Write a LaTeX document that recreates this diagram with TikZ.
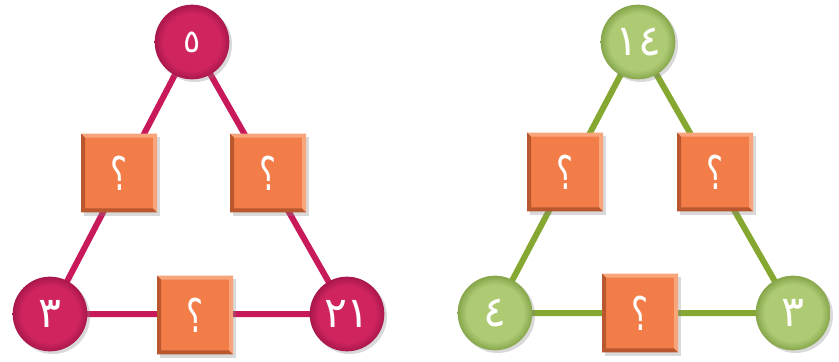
\documentclass[tikz,border=0pt]{standalone}
\usepackage{fontspec}
\usepackage{graphicx}
\newfontfamily\digfont{DejaVu Sans}
\usetikzlibrary{shadows,backgrounds}
\definecolor{crimA}{HTML}{D0245F}
\definecolor{crimB}{HTML}{A8174C}
\definecolor{crimL}{HTML}{C8195A}
\definecolor{grnA}{HTML}{AECB74}
\definecolor{grnB}{HTML}{86A64B}
\definecolor{grnL}{HTML}{86A832}
\definecolor{sqO}{HTML}{F27D48}
\definecolor{sqD}{HTML}{B9582E}
\definecolor{sqL}{HTML}{F8A57C}
\newcommand{\qmk}{\scalebox{1}[1.45]{؟}}
\pgfdeclareradialshading{crimball}{\pgfpoint{0bp}{0bp}}{color(0bp)=(crimA); color(19bp)=(crimA); color(25bp)=(crimB); color(50bp)=(crimB)}
\pgfdeclareradialshading{grnball}{\pgfpoint{0bp}{0bp}}{color(0bp)=(grnA); color(19bp)=(grnA); color(25bp)=(grnB); color(50bp)=(grnB)}
\tikzset{
  numtext/.style={text=white, font=\digfont\fontsize{32}{32}\selectfont},
  smalltext/.style={font=\digfont\fontsize{24}{24}\selectfont},
  qtext/.style={text=white, font=\digfont\fontsize{24}{24}\selectfont},
  ball/.style={circle, minimum size=56pt, inner sep=0pt, numtext,
    drop shadow={opacity=0.3, shadow xshift=2pt, shadow yshift=-2pt}},
  crimnode/.style={ball, shade, shading=crimball},
  grnnode/.style={ball, shade, shading=grnball},
  sqbox/.style={rectangle, minimum width=57pt, minimum height=59pt, inner sep=0pt,
    fill=sqO, qtext,
    drop shadow={opacity=0.3, shadow xshift=2.5pt, shadow yshift=-2.5pt},
    path picture={
      \fill[sqL] (path picture bounding box.north west) -- (path picture bounding box.north east)
        -- ([shift={(-3pt,-3pt)}]path picture bounding box.north east)
        -- ([shift={(3pt,-3pt)}]path picture bounding box.north west) -- cycle;
      \fill[sqL] (path picture bounding box.north east) -- (path picture bounding box.south east)
        -- ([shift={(-3pt,3pt)}]path picture bounding box.south east)
        -- ([shift={(-3pt,-3pt)}]path picture bounding box.north east) -- cycle;
      \fill[sqD] (path picture bounding box.north west) -- (path picture bounding box.south west)
        -- ([shift={(3pt,3pt)}]path picture bounding box.south west)
        -- ([shift={(3pt,-3pt)}]path picture bounding box.north west) -- cycle;
      \fill[sqD] (path picture bounding box.south west) -- (path picture bounding box.south east)
        -- ([shift={(-3pt,3pt)}]path picture bounding box.south east)
        -- ([shift={(3pt,3pt)}]path picture bounding box.south west) -- cycle;
    }},
  crimedge/.style={draw=crimL, line width=4.5pt},
  grnedge/.style={draw=grnL, line width=4.5pt}
}
\begin{document}
\begin{tikzpicture}[x=0.75pt,y=-0.75pt]
\useasboundingbox (0,0) rectangle (839,361);
% left triangle
\node[crimnode, smalltext] (lt) at (192,42) {٥};
\node[crimnode] (lbl) at (50,314) {٣};
\node[crimnode] (lbr) at (347,314) {٢١};
\node[sqbox] (lq1) at (119,173) {\qmk};
\node[sqbox] (lq2) at (268,173) {\qmk};
\node[sqbox] (lq3) at (195,315) {\qmk};
% right triangle
\node[grnnode] (rt) at (638,42) {١٤};
\node[grnnode] (rbl) at (495,313) {٤};
\node[grnnode] (rbr) at (793,313) {٣};
\node[sqbox] (rq1) at (565,172) {\qmk};
\node[sqbox] (rq2) at (715,172) {\qmk};
\node[sqbox] (rq3) at (640,313) {\qmk};
\begin{pgfonlayer}{background}
\draw[crimedge] (lt.center) -- (lbl.center) -- (lbr.center) -- cycle;
\draw[grnedge] (rt.center) -- (rbl.center) -- (rbr.center) -- cycle;
\end{pgfonlayer}
\end{tikzpicture}
\end{document}
